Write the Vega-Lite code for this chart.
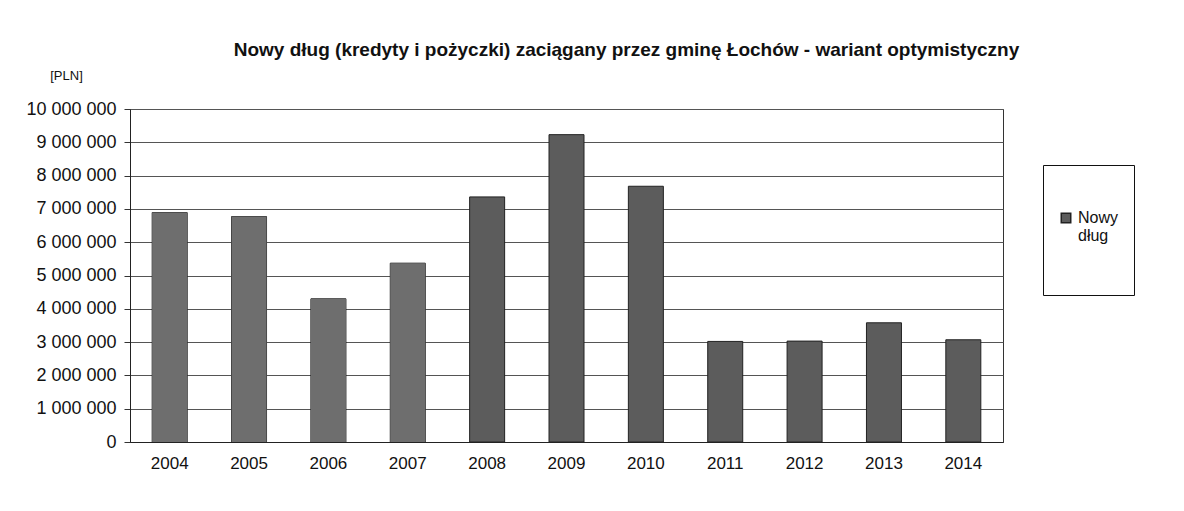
{
  "$schema": "https://vega.github.io/schema/vega-lite/v6.json",
  "width": 873,
  "height": 333,
  "autosize": "none",
  "padding": {"left": 130, "top": 109, "right": 181, "bottom": 69},
  "background": "white",
  "title": {
    "text": "Nowy dług (kredyty i pożyczki) zaciągany przez gminę Łochów - wariant optymistyczny",
    "font": "Liberation Sans",
    "fontSize": 19,
    "fontWeight": "bold",
    "color": "#111111",
    "anchor": "middle",
    "dx": 60,
    "offset": 9
  },
  "data": {
    "values": [
      {"rok": "2004", "kwota": 6890000, "seria": "Nowy dług", "okres": "wykonanie"},
      {"rok": "2005", "kwota": 6770000, "seria": "Nowy dług", "okres": "wykonanie"},
      {"rok": "2006", "kwota": 4300000, "seria": "Nowy dług", "okres": "wykonanie"},
      {"rok": "2007", "kwota": 5370000, "seria": "Nowy dług", "okres": "wykonanie"},
      {"rok": "2008", "kwota": 7360000, "seria": "Nowy dług", "okres": "prognoza"},
      {"rok": "2009", "kwota": 9230000, "seria": "Nowy dług", "okres": "prognoza"},
      {"rok": "2010", "kwota": 7680000, "seria": "Nowy dług", "okres": "prognoza"},
      {"rok": "2011", "kwota": 3020000, "seria": "Nowy dług", "okres": "prognoza"},
      {"rok": "2012", "kwota": 3030000, "seria": "Nowy dług", "okres": "prognoza"},
      {"rok": "2013", "kwota": 3580000, "seria": "Nowy dług", "okres": "prognoza"},
      {"rok": "2014", "kwota": 3070000, "seria": "Nowy dług", "okres": "prognoza"}
    ]
  },
  "encoding": {
    "x": {
      "field": "rok",
      "type": "ordinal",
      "scale": {"paddingInner": 0, "paddingOuter": 0},
      "axis": {
        "title": null,
        "labelAngle": 0,
        "labelFontSize": 17,
        "labelPadding": 13,
        "ticks": false,
        "domainColor": "#222222",
        "labelColor": "#111111"
      }
    },
    "y": {
      "field": "kwota",
      "type": "quantitative",
      "scale": {"domain": [0, 10000000], "nice": false},
      "axis": {
        "title": "[PLN]",
        "titleAngle": 0,
        "titleX": -64,
        "titleY": -34,
        "titleAlign": "center",
        "titleBaseline": "middle",
        "titleFontSize": 13,
        "titleFontWeight": "normal",
        "titleColor": "#111111",
        "tickCount": 10,
        "format": ",d",
        "labelFontSize": 18,
        "labelPadding": 8,
        "tickSize": 6,
        "tickColor": "#333333",
        "labelColor": "#111111",
        "domainColor": "#222222",
        "grid": true,
        "gridColor": "#555555",
        "gridWidth": 1
      }
    }
  },
  "layer": [
    {
      "mark": {"type": "bar", "size": 35, "stroke": "#222222", "strokeWidth": 1},
      "encoding": {
        "color": {
          "field": "seria",
          "type": "nominal",
          "scale": {"range": ["#5c5c5c"]},
          "legend": {
            "title": " ",
            "titleFontSize": 16,
            "titlePadding": 14,
            "orient": "none",
            "legendX": 913,
            "legendY": 56,
            "symbolType": "square",
            "symbolSize": 90,
            "symbolFillColor": "#333333",
            "labelFontSize": 16,
            "labelExpr": "['Nowy', 'dług', '', '']",
            "strokeColor": "#111111",
            "fillColor": "white",
            "padding": 15,
            "labelColor": "#111111"
          }
        }
      }
    },
    {
      "transform": [{"filter": "datum.okres === 'wykonanie'"}],
      "mark": {"type": "bar", "size": 35, "color": "#6e6e6e"}
    }
  ],
  "config": {
    "font": "Liberation Sans",
    "locale": {
      "number": {"decimal": ",", "thousands": " ", "grouping": [3], "currency": ["", " zł"]}
    },
    "view": {"stroke": "#333333", "strokeWidth": 1},
    "axis": {"labelFont": "Liberation Sans", "titleFont": "Liberation Sans"},
    "legend": {"labelFont": "Liberation Sans"}
  }
}
